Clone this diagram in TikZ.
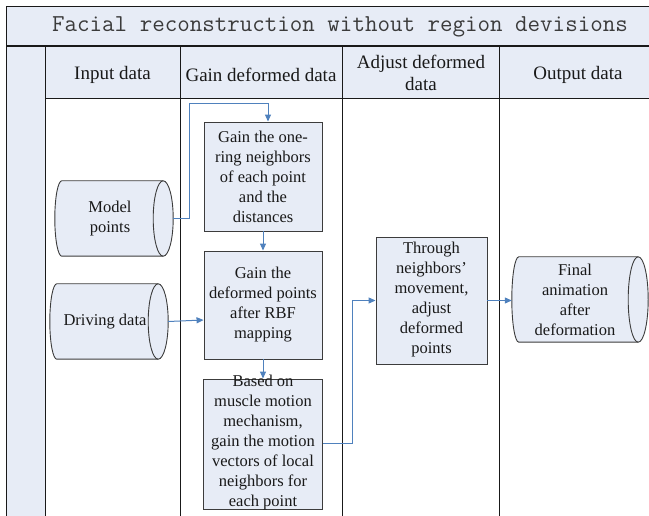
\documentclass[tikz,border=0pt]{standalone}
\usepackage{fontspec}
\usepackage{graphicx}
\setmainfont{Liberation Serif}
\usetikzlibrary{arrows.meta,calc}
\definecolor{lb}{RGB}{231,236,246}
\definecolor{flowblue}{RGB}{79,129,189}
\definecolor{edge}{RGB}{60,60,60}
\definecolor{ink}{RGB}{25,25,25}
\newcommand\drawcyl[1]{%
  \path[cylline] let \p1=(#1.north west), \p2=(#1.south east), \n1={(\y1-\y2)/2} in
    (\x1+7pt,\y1) -- (\x2-10pt,\y1)
    arc[start angle=90,end angle=-90,x radius=10pt,y radius=\n1]
    -- (\x1+7pt,\y2)
    arc[start angle=270,end angle=90,x radius=7pt,y radius=\n1] -- cycle;
  \path[cylline,fill=none] let \p1=(#1.north west), \p2=(#1.south east), \n1={(\y1-\y2)/2} in
    (\x2-10pt,\y1) arc[start angle=90,end angle=270,x radius=10pt,y radius=\n1];
}
\tikzset{
  frame/.style={draw=ink, line width=1pt},
  boxshape/.style={draw=edge, fill=lb, line width=0.9pt, rectangle, inner sep=0pt},
  cylbox/.style={draw=none, rectangle, inner sep=0pt},
  cylline/.style={draw=edge, fill=lb, line width=0.9pt},
  bodytext/.style={align=center, inner sep=0pt, text=ink, font=\fontsize{16.5}{20}\selectfont},
  headtext/.style={align=center, inner sep=0pt, text=ink, font=\fontsize{19}{22}\selectfont},
  flow/.style={draw=flowblue, line width=1pt, -{Triangle[length=7pt,width=6pt]}},
}
\begin{document}
\begin{tikzpicture}[x=1pt,y=1pt]
\useasboundingbox (0,0) rectangle (649,515);
\clip (0,0) rectangle (649,515);
% frame
\path[frame, fill=lb] (6,469) rectangle (690,508);
\path[frame, fill=lb] (6,-10) rectangle (45,469);
\path[frame, fill=lb] (45,416) rectangle (690,469);
\draw[ink, line width=1.6pt] (6,469) -- (690,469);
\foreach \xx in {180,342,499} {\draw[frame] (\xx,469) -- (\xx,-10);}
% title
\node[anchor=base, inner sep=0pt, text=ink!85] (title) at (340,483)
  {\ttfamily\fontsize{24.3}{24}\selectfont Facial reconstruction without region devisions};
% headers
\node[headtext] (h1) at (112.5,440) {Input data};
\node[headtext] (h2) at (261,440) {Gain deformed data};
\node[headtext] (h3) at (421,442) {Adjust deformed\\data};
\node[headtext] (h4) at (578,440) {Output data};
% boxes
\node[boxshape, minimum width=118, minimum height=109] (b1) at (263,338.5) {};
\node[bodytext] (b1t) at (b1.center) {Gain the one-\\ring neighbors\\of each point\\and the\\distances};
\node[boxshape, minimum width=118, minimum height=108] (b2) at (263,210) {};
\node[bodytext] (b2t) at (b2.center) {Gain the\\deformed points\\after RBF\\mapping};
\node[boxshape, minimum width=119, minimum height=130] (b3) at (263,71) {};
\node[bodytext] (b3t) at ([yshift=1pt]b3.center) {Based on\\muscle motion\\mechanism,\\gain the motion\\vectors of local\\neighbors for\\each point};
\node[boxshape, minimum width=111, minimum height=127] (b4) at (431.5,214.5) {};
\node[bodytext] (b4t) at ([yshift=0.5pt]b4.center) {Through\\neighbors’\\movement,\\adjust\\deformed\\points};
% cylinders
\node[cylbox, minimum width=118, minimum height=75] (model) at (114,296.5) {};
\drawcyl{model}
\node[bodytext] (modelt) at ([xshift=-4pt]model.center) {Model\\points};
\node[cylbox, minimum width=118, minimum height=75] (drive) at (109,193.5) {};
\drawcyl{drive}
\node[bodytext] (drivet) at ([xshift=-4pt]drive.center) {Driving data};
\node[cylbox, minimum width=136, minimum height=85] (final) at (580,215.5) {};
\drawcyl{final}
\node[bodytext] (finalt) at ([xshift=-5pt]final.center) {Final\\animation\\after\\deformation};
% connectors
\draw[flow] (model.east) -- ++(16,0) |- ([xshift=5pt,yshift=18pt]b1.north) -- ([xshift=5pt]b1.north);
\draw[flow] (b1.south) -- (b2.north);
\draw[flow] (drive.east) -- ([yshift=-15pt]b2.west);
\draw[flow] (b2.south) -- (b3.north);
\draw[flow] (b3.east) -- ++(30,0) |- (b4.west);
\draw[flow] (b4.east) -- (b4.east -| final.west);
\end{tikzpicture}
\end{document}
